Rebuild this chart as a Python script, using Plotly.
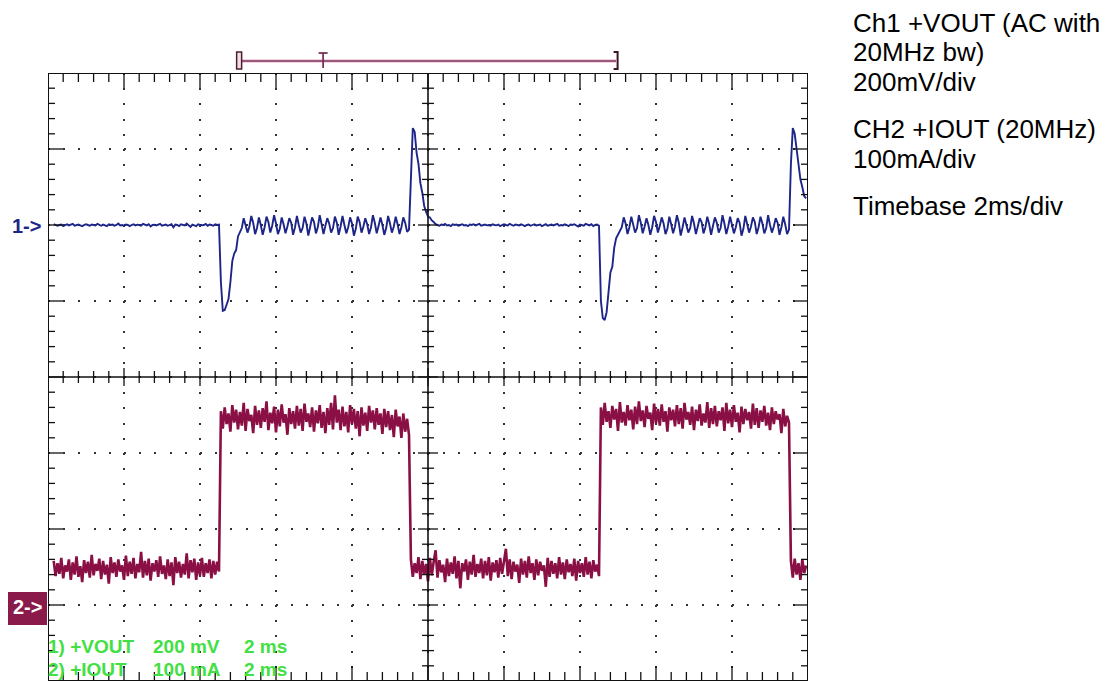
import numpy as np
import plotly.graph_objects as go

# ---------------- data ----------------
T_START_MS = 0.15      # first sample time
SAMPLE_MS = 0.05       # sample spacing
TIME_DIV_MS = 2.0      # 2 ms/div, 10 divisions
CH1_MV_PER_DIV = 200.0
CH2_MA_PER_DIV = 100.0
CH1_REF_DIV = 2.0      # "1->" marker level (divisions from screen centre)
CH2_REF_DIV = -3.0     # "2->" marker level

# Ch1 +VOUT (mV, AC coupled)
ch1_idle_a = [2,0,-2,0,1,-3,0,2,-1,0,3,-2,0,1,-1,-3,0,2,0,-2,
              1,0,-1,3,0,-2,1,0,-3,2,0,1,-2,0,4,-1,0,-2,1,0,
              -3,0,2,-1,1,0,-2,3,0,-1,2,-4,0,1,-1,0,3,-2,0,1,
              -2,0,2,-6,1,0,-3,2,0,-1,4,-2,-5,1,0,-3,2,0,-1,0,
              3,-2,1,0,-2,2,0,1]
ch1_undershoot_a = [-150,-226,-224,-210,-195,-150,-95,-75,-66,-30,-20,-8]
ch1_ripple_a = [18,2,-20,-4, 24,6,-24,-8, 20,0,-26,-6, 22,8,-20,-2, 26,4,-24,-10, 20,2,-22,-4,
                18,6,-26,-6, 24,0,-20,-8, 22,4,-28,-4, 20,8,-22,-6, 26,2,-24,-2, 18,4,-20,-8,
                22,6,-26,-4, 24,0,-22,-6, 20,4,-28,-10, 22,8,-20,-4, 18,2,-24,-6, 26,6,-22,-2,
                20,0,-26,-8, 24,4,-20,-4, 22,2,-24,-6, 20,6,-18,-12]
ch1_overshoot_a = [150,255,245,190,160,110,85,50,35,22,20,12,8,2]
ch1_idle_b = [0,-2,1,0,3,-1,0,-3,2,0,1,-2,0,2,-1,0,-3,1,0,2,
              -1,0,3,-2,0,1,-1,0,-2,2,0,-1,1,-3,0,2,0,-1,3,0,
              -2,1,0,-1,2,0,-3,0,1,-2,0,2,-1,0,1,-3,0,2,-2,0,
              1,-1,0,3,-2,0,-1,2,0,-3,1,0,2,-1,-4,1,0,-2,3,0,
              -1,2,-3,0,1,-2]
ch1_undershoot_b = [-200,-245,-250,-230,-170,-125,-110,-60,-35,-25,-15,-6]
ch1_ripple_b = [20,4,-24,-6, 22,2,-20,-8, 26,6,-22,-4, 18,0,-26,-6, 24,8,-20,-2, 20,4,-24,-10,
                22,2,-22,-4, 26,6,-28,-6, 20,0,-20,-8, 24,4,-24,-4, 18,8,-22,-6, 22,2,-26,-2,
                20,6,-20,-8, 26,4,-24,-4, 22,0,-22,-6, 18,6,-28,-10, 24,2,-20,-4, 20,8,-24,-6,
                22,4,-22,-8, 26,0,-20,-4, 18,6,-26,-6, 22,2,-24,-12]
ch1_overshoot_b = [160,255,240,200,165,120,100,76,70]

# Ch2 +IOUT (mA)
ch2_low_a = [58,38,55,41,62,35,52,44,60,33,56,40,64,37,51,30,59,42,57,36,
             66,39,54,45,61,34,58,40,53,28,63,42,56,37,60,44,52,33,65,38,
             57,41,62,35,54,43,70,36,58,39,61,32,55,44,59,37,64,41,52,34,
             60,38,56,26,63,42,57,36,54,40,68,35,59,43,61,33,56,39,62,37,
             55,42,60,35,58,40,57,44]
ch2_high_a = [255,232,260,238,252,228,263,240,257,231,254,236,266,229,258,242,250,226,262,237,
              256,233,259,241,268,230,253,239,261,227,257,235,264,240,251,224,259,238,255,232,
              262,236,258,229,265,241,252,234,260,228,256,239,263,233,254,226,259,237,266,231,
              276,240,257,230,261,235,254,227,263,238,258,232,255,222,260,236,253,229,262,240,
              256,231,259,237,252,225,258,234,255,230,250,221,257,235,248,220,252,228,245,224]
ch2_low_b = [60,37,55,42,63,34,58,40,54,31,62,39,57,72,36,59,43,53,30,61,
             38,56,41,64,35,58,22,55,44,60,33,57,40,66,37,54,42,61,35,58,
             39,63,32,56,43,59,36,62,41,55,74,38,60,34,57,44,53,29,61,40,
             58,36,64,42,55,33,60,39,57,45,52,24,62,37,58,41,55,35,63,40,
             56,34,60,43,54,38,61,32,58,42,55,37,63,40,57,35,59,44,53,38]
ch2_high_b = [260,237,266,241,255,233,262,244,258,229,267,240,254,236,263,243,257,231,261,238,
              268,242,256,234,262,245,253,230,265,239,258,236,264,241,255,228,260,243,257,235,
              263,238,259,232,266,244,254,237,261,230,257,242,264,236,252,240,267,233,259,238,
              262,235,255,243,260,229,266,239,257,234,263,241,253,227,261,238,258,243,254,232,
              265,237,259,233,256,241,262,236,253,230,260,238,255,244,251,226,258,235,249,240]
ch2_low_c = [58,36,61,40,55,33,60,42,52]

# trigger / window markers on top of the screen (ms)
WINDOW_START_MS = 5.03
TRIGGER_MS = 7.24
WINDOW_END_MS = 14.95

SCOPE_LABELS = [("1) +VOUT", "200 mV", "2 ms"), ("2) +IOUT", "100 mA", "2 ms")]
SIDE_TEXT = ["Ch1 +VOUT (AC with", "20MHz bw)", "200mV/div",
             "CH2 +IOUT (20MHz)", "100mA/div", "Timebase 2ms/div"]

# ---------------- build ----------------
ch1 = np.array(ch1_idle_a + ch1_undershoot_a + ch1_ripple_a + ch1_overshoot_a +
               ch1_idle_b + ch1_undershoot_b + ch1_ripple_b + ch1_overshoot_b, dtype=float)
ch2 = np.array(ch2_low_a + ch2_high_a + ch2_low_b + ch2_high_b + ch2_low_c, dtype=float)
t1 = T_START_MS + SAMPLE_MS * np.arange(len(ch1))
t2 = T_START_MS + SAMPLE_MS * np.arange(len(ch2))

W, H = 1118, 681
L, T, PW, PH = 48, 73, 760, 608
X_MAX = 10 * TIME_DIV_MS


def pxx(px):
    return (px - L) / PW


def pxy(py):
    return (T + PH - py) / PH


NAVY = "#1d2588"
MAROON = "#8a0f44"
GREEN = "#42e042"

fig = go.Figure()
fig.add_trace(go.Scatter(x=t2, y=CH2_REF_DIV + ch2 / CH2_MA_PER_DIV, mode="lines",
                         line=dict(color=MAROON, width=2.6), hoverinfo="skip"))
fig.add_trace(go.Scatter(x=t1, y=CH1_REF_DIV + ch1 / CH1_MV_PER_DIV, mode="lines",
                         line=dict(color=NAVY, width=1.9), hoverinfo="skip"))

shapes = []
blk = dict(color="#111111", width=1.3)
# border and centre cross
shapes.append(dict(type="rect", xref="x", yref="y", x0=0, x1=X_MAX, y0=-4, y1=4,
                   line=dict(color="#111111", width=2)))
shapes.append(dict(type="line", xref="x", yref="y", x0=X_MAX / 2, x1=X_MAX / 2, y0=-4, y1=4,
                   line=dict(color="#111111", width=1.6)))
shapes.append(dict(type="line", xref="x", yref="y", x0=0, x1=X_MAX, y0=0, y1=0,
                   line=dict(color="#111111", width=1.6)))
# ticks along horizontal lines (every 1/5 division)
for k in range(1, 50):
    xv = k * TIME_DIV_MS / 5
    major = k % 5 == 0
    ln = 15 if major else 9
    shapes.append(dict(type="line", xref="x", yref="y", ysizemode="pixel", yanchor=4,
                       x0=xv, x1=xv, y0=0, y1=-ln, line=blk))
    shapes.append(dict(type="line", xref="x", yref="y", ysizemode="pixel", yanchor=-4,
                       x0=xv, x1=xv, y0=0, y1=ln, line=blk))
    c = 9 if major else 6
    shapes.append(dict(type="line", xref="x", yref="y", ysizemode="pixel", yanchor=0,
                       x0=xv, x1=xv, y0=-c, y1=c, line=blk))
# ticks along vertical lines
for j in range(1, 40):
    yv = -4 + j * 0.2
    major = j % 5 == 0
    ln = 15 if major else 7
    shapes.append(dict(type="line", xref="x", yref="y", xsizemode="pixel", xanchor=0,
                       x0=0, x1=ln, y0=yv, y1=yv, line=blk))
    shapes.append(dict(type="line", xref="x", yref="y", xsizemode="pixel", xanchor=X_MAX,
                       x0=0, x1=-ln, y0=yv, y1=yv, line=blk))
    c = 10 if major else 6
    shapes.append(dict(type="line", xref="x", yref="y", xsizemode="pixel", xanchor=X_MAX / 2,
                       x0=-c, x1=c, y0=yv, y1=yv, line=blk))

# window / trigger marker above screen
mk = "#7a3358"
ym = pxy(61)
shapes.append(dict(type="line", xref="paper", yref="paper", x0=WINDOW_START_MS / X_MAX,
                   x1=WINDOW_END_MS / X_MAX, y0=ym, y1=ym,
                   line=dict(color="rgba(235,170,200,0.55)", width=4)))
shapes.append(dict(type="line", xref="paper", yref="paper", x0=WINDOW_START_MS / X_MAX,
                   x1=WINDOW_END_MS / X_MAX, y0=ym, y1=ym, line=dict(color=mk, width=1.6)))
shapes.append(dict(type="rect", xref="paper", yref="paper",
                   x0=WINDOW_START_MS / X_MAX - pxx(L + 2.5), x1=WINDOW_START_MS / X_MAX + pxx(L + 2.5),
                   y0=pxy(69), y1=pxy(52), fillcolor="#f2dde6", line=dict(color="#4a2030", width=1.5)))
shapes.append(dict(type="line", xref="paper", yref="paper", x0=TRIGGER_MS / X_MAX, x1=TRIGGER_MS / X_MAX,
                   y0=pxy(68), y1=pxy(53), line=dict(color=mk, width=1.8)))
shapes.append(dict(type="line", xref="paper", yref="paper", x0=TRIGGER_MS / X_MAX - pxx(L + 4.5),
                   x1=TRIGGER_MS / X_MAX + pxx(L + 4.5), y0=pxy(53), y1=pxy(53),
                   line=dict(color=mk, width=1.8)))
xr = WINDOW_END_MS / X_MAX + pxx(L + 1.5)
shapes.append(dict(type="path", xref="paper", yref="paper",
                   path=f"M {xr - pxx(L + 4)},{pxy(52)} L {xr},{pxy(52)} L {xr},{pxy(69)} L {xr - pxx(L + 4)},{pxy(69)}",
                   line=dict(color="#3a1828", width=2)))
# "2->" box
shapes.append(dict(type="rect", xref="paper", yref="paper", x0=pxx(8), x1=pxx(47),
                   y0=pxy(625), y1=pxy(592), fillcolor="#8a1a4a", line=dict(width=0)))

ann = []
ann.append(dict(text="<b>1-></b>", xref="paper", yref="paper", x=pxx(10), y=pxy(226),
                xanchor="left", yanchor="middle", showarrow=False,
                font=dict(family="Liberation Sans, Arial", size=20, color=NAVY)))
ann.append(dict(text="<b>2-></b>", xref="paper", yref="paper", x=pxx(27.5), y=pxy(607),
                xanchor="center", yanchor="middle", showarrow=False,
                font=dict(family="Liberation Sans, Arial", size=20, color="white")))
cols = [46, 151, 242]
rows = [646, 669]
for r, labels in enumerate(SCOPE_LABELS):
    for c, lab in enumerate(labels):
        ann.append(dict(text="<b>" + lab + "</b>", xref="paper", yref="paper",
                        x=pxx(cols[c]), y=pxy(rows[r]),
                        xanchor="left", yanchor="middle", showarrow=False,
                        font=dict(family="Liberation Sans, Arial", size=19, color=GREEN)))
side_y = [23, 52, 82, 129, 159, 206]
for s, yy in zip(SIDE_TEXT, side_y):
    ann.append(dict(text=s, xref="paper", yref="paper", x=pxx(851), y=pxy(yy),
                    xanchor="left", yanchor="middle", showarrow=False,
                    font=dict(family="Liberation Sans, Arial", size=26, color="black")))

fig.update_layout(
    width=W, height=H, autosize=False,
    margin=dict(l=L, r=W - L - PW, t=T, b=H - T - PH, pad=0),
    paper_bgcolor="white", plot_bgcolor="white",
    showlegend=False,
    shapes=shapes, annotations=ann,
    xaxis=dict(range=[0, X_MAX], dtick=TIME_DIV_MS, tick0=0, showgrid=True,
               gridcolor="#333333", gridwidth=2, griddash="2px,13.2px",
               showticklabels=False, zeroline=False, showline=False, ticks="", fixedrange=True),
    yaxis=dict(range=[-4, 4], dtick=1, tick0=0, showgrid=True,
               gridcolor="#333333", gridwidth=2, griddash="2px,13.2px",
               showticklabels=False, zeroline=False, showline=False, ticks="", fixedrange=True),
)

fig.write_html("out.html", config={"displayModeBar": False},
               post_script="document.body.style.margin='0';document.body.style.overflow='hidden';")
